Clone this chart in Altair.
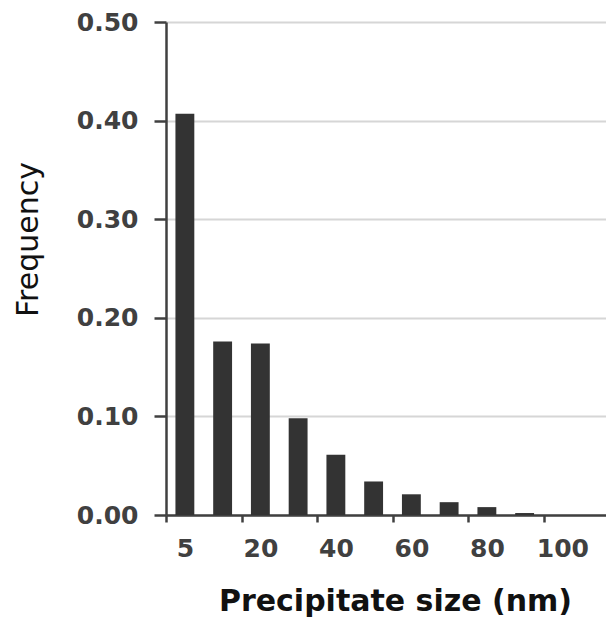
import altair as alt
import pandas as pd

sizes = ["5", "10", "20", "30", "40", "50", "60", "70", "80", "90", "100", "110"]
freq = [0.407, 0.176, 0.174, 0.098, 0.061, 0.034, 0.021, 0.013, 0.008, 0.002, 0.0, 0.0]
x_tick_labels = ["5", "20", "40", "60", "80", "100"]
y_ticks = [0.0, 0.1, 0.2, 0.3, 0.4, 0.5]

df = pd.DataFrame({"size": sizes, "freq": freq})

W = 440          # visible plot width (cropped on the right like the reference)
RANGE = 453      # full band range of the 12 categories
H = 493
n = len(sizes)
step = RANGE / n
pad_inner = 0.5
bw = step * (1 - pad_inner)
off = (step - bw) / 2

axis_color = "#404040"

chart = alt.Chart(df).mark_bar(color="#333333").encode(
    x=alt.X(
        "size:N",
        sort=sizes,
        scale=alt.Scale(paddingInner=pad_inner, paddingOuter=pad_inner / 2, range=[0, RANGE]),
        axis=alt.Axis(
            values=x_tick_labels,
            labelAngle=0,
            bandPosition=0,
            tickOffset=-off,
            labelOffset=off,
            tickSize=7,
            tickWidth=2.5,
            tickColor=axis_color,
            domainColor=axis_color,
            domainWidth=2.5,
            labelFont="DejaVu Sans",
            labelFontWeight="bold",
            labelFontSize=25,
            labelColor=axis_color,
            labelPadding=14,
            grid=False,
            title="Precipitate size (nm)",
            titleFont="DejaVu Sans",
            titleFontWeight="bold",
            titleFontSize=30,
            titleColor="#111111",
            titleX=229,
            titleY=95,
            titleAlign="center",
            titleBaseline="alphabetic",
        ),
    ),
    y=alt.Y(
        "freq:Q",
        scale=alt.Scale(domain=[0, 0.5], nice=False),
        axis=alt.Axis(
            values=y_ticks,
            format=".2f",
            tickSize=12,
            tickWidth=2.5,
            tickColor=axis_color,
            domainColor=axis_color,
            domainWidth=2.5,
            labelFont="DejaVu Sans",
            labelFontWeight="bold",
            labelFontSize=25,
            labelColor=axis_color,
            labelPadding=16,
            grid=True,
            gridColor="#d6d6d6",
            gridWidth=2,
            title="Frequency",
            titleFont="DejaVu Sans",
            titleFontWeight="normal",
            titleFontSize=30,
            titleColor="#111111",
            titleAngle=270,
            titleX=-129,
            titleY=217,
            titleAlign="center",
            titleBaseline="alphabetic",
        ),
    ),
).properties(
    width=W,
    height=H,
    autosize=alt.AutoSizeParams(type="none"),
    padding={"left": 158, "top": 14, "right": 0, "bottom": 104},
).configure_view(stroke=None)

chart.save("out.html", embed_options={"renderer": "svg", "actions": False})
